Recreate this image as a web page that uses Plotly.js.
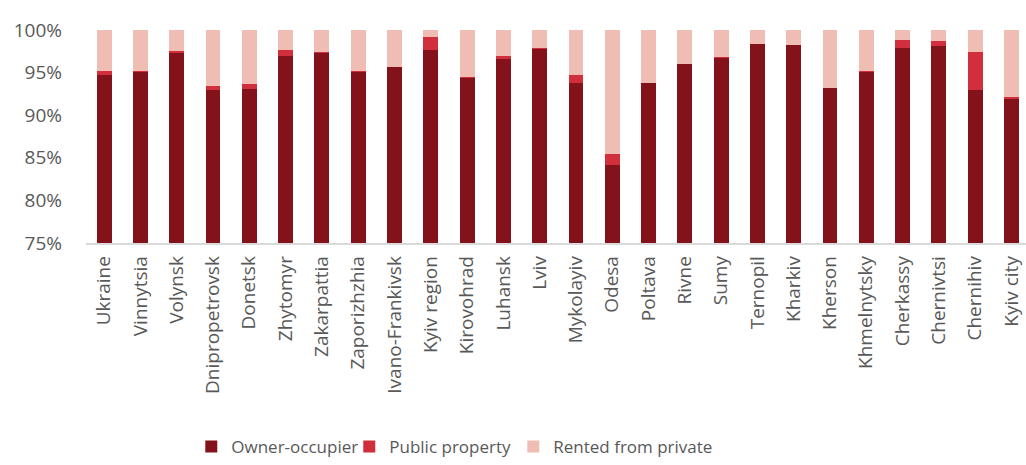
<!DOCTYPE html>
<html><head><meta charset="utf-8">
<script src="https://cdn.plot.ly/plotly-3.0.1.min.js"></script>
<style>html,body{margin:0;padding:0;background:#fff}#chart{width:1026px;height:465px}</style>
</head><body><div id="chart"></div>
<script>
const regions = ["Ukraine","Vinnytsia","Volynsk","Dnipropetrovsk","Donetsk","Zhytomyr","Zakarpattia","Zaporizhzhia","Ivano-Frankivsk","Kyiv region","Kirovohrad","Luhansk","Lviv","Mykolayiv","Odesa","Poltava","Rivne","Sumy","Ternopil","Kharkiv","Kherson","Khmelnytsky","Cherkassy","Chernivtsi","Chernihiv","Kyiv city"];
const ownerOccupier = [94.7,95.1,97.3,92.9,93.1,97.0,97.3,95.1,95.6,97.6,94.4,96.6,97.8,93.8,84.2,93.8,96.0,96.7,98.4,98.2,93.2,95.1,97.9,98.1,92.9,91.9];
const publicProperty = [0.5,0.1,0.2,0.5,0.6,0.7,0.1,0.1,0.1,1.6,0.1,0.4,0.1,0.9,1.2,0.0,0.0,0.1,0.0,0.0,0.0,0.1,0.9,0.6,4.5,0.2];
const rentedPrivate = [4.8,4.8,2.5,6.6,6.3,2.3,2.6,4.8,4.3,0.8,5.5,3.0,2.1,5.3,14.6,6.2,4.0,3.2,1.6,1.8,6.8,4.8,1.2,1.3,2.6,7.9];
const yTicks = [75,80,85,90,95,100];

const FONT = "'Open Sans', 'Noto Sans', sans-serif";
const traces = [
  {name:"Owner-occupier", x:regions, y:ownerOccupier, type:"bar", marker:{color:"#83121A"}, legendwidth:113},
  {name:"Public property", x:regions, y:publicProperty, type:"bar", marker:{color:"#D02F3B"}, legendwidth:119},
  {name:"Rented from private", x:regions, y:rentedPrivate, type:"bar", marker:{color:"#F0BDB4"}, legendwidth:170}
];
const layout = {
  width:1026, height:465,
  margin:{l:86, r:0, t:30, b:219},
  barmode:"stack", bargap:0.59,
  paper_bgcolor:"#fff", plot_bgcolor:"#fff",
  font:{family:FONT, size:17, color:"#595959"},
  showlegend:true,
  legend:{orientation:"h", x:0.112, xanchor:"left", y:-0.96, yanchor:"middle",
          font:{family:FONT, size:17, color:"#595959"}, traceorder:"normal"},
  xaxis:{type:"category", range:[-0.5,25.4], tickangle:-90, showline:true, linecolor:"#D9D9D9", linewidth:1.5,
         ticks:"", showgrid:false, automargin:false, ticklabelstandoff:4,
         tickfont:{family:FONT, size:19, color:"#595959"}},
  yaxis:{range:[75,100], tickvals:yTicks, ticktext:yTicks.map(v=>v+"%"), showgrid:false, zeroline:false,
         showline:false, ticks:"", automargin:false, ticklabelstandoff:23,
         tickfont:{family:FONT, size:19, color:"#595959"}}
};
Plotly.newPlot("chart", traces, layout, {displayModeBar:false, staticPlot:true});
</script>
</body></html>
